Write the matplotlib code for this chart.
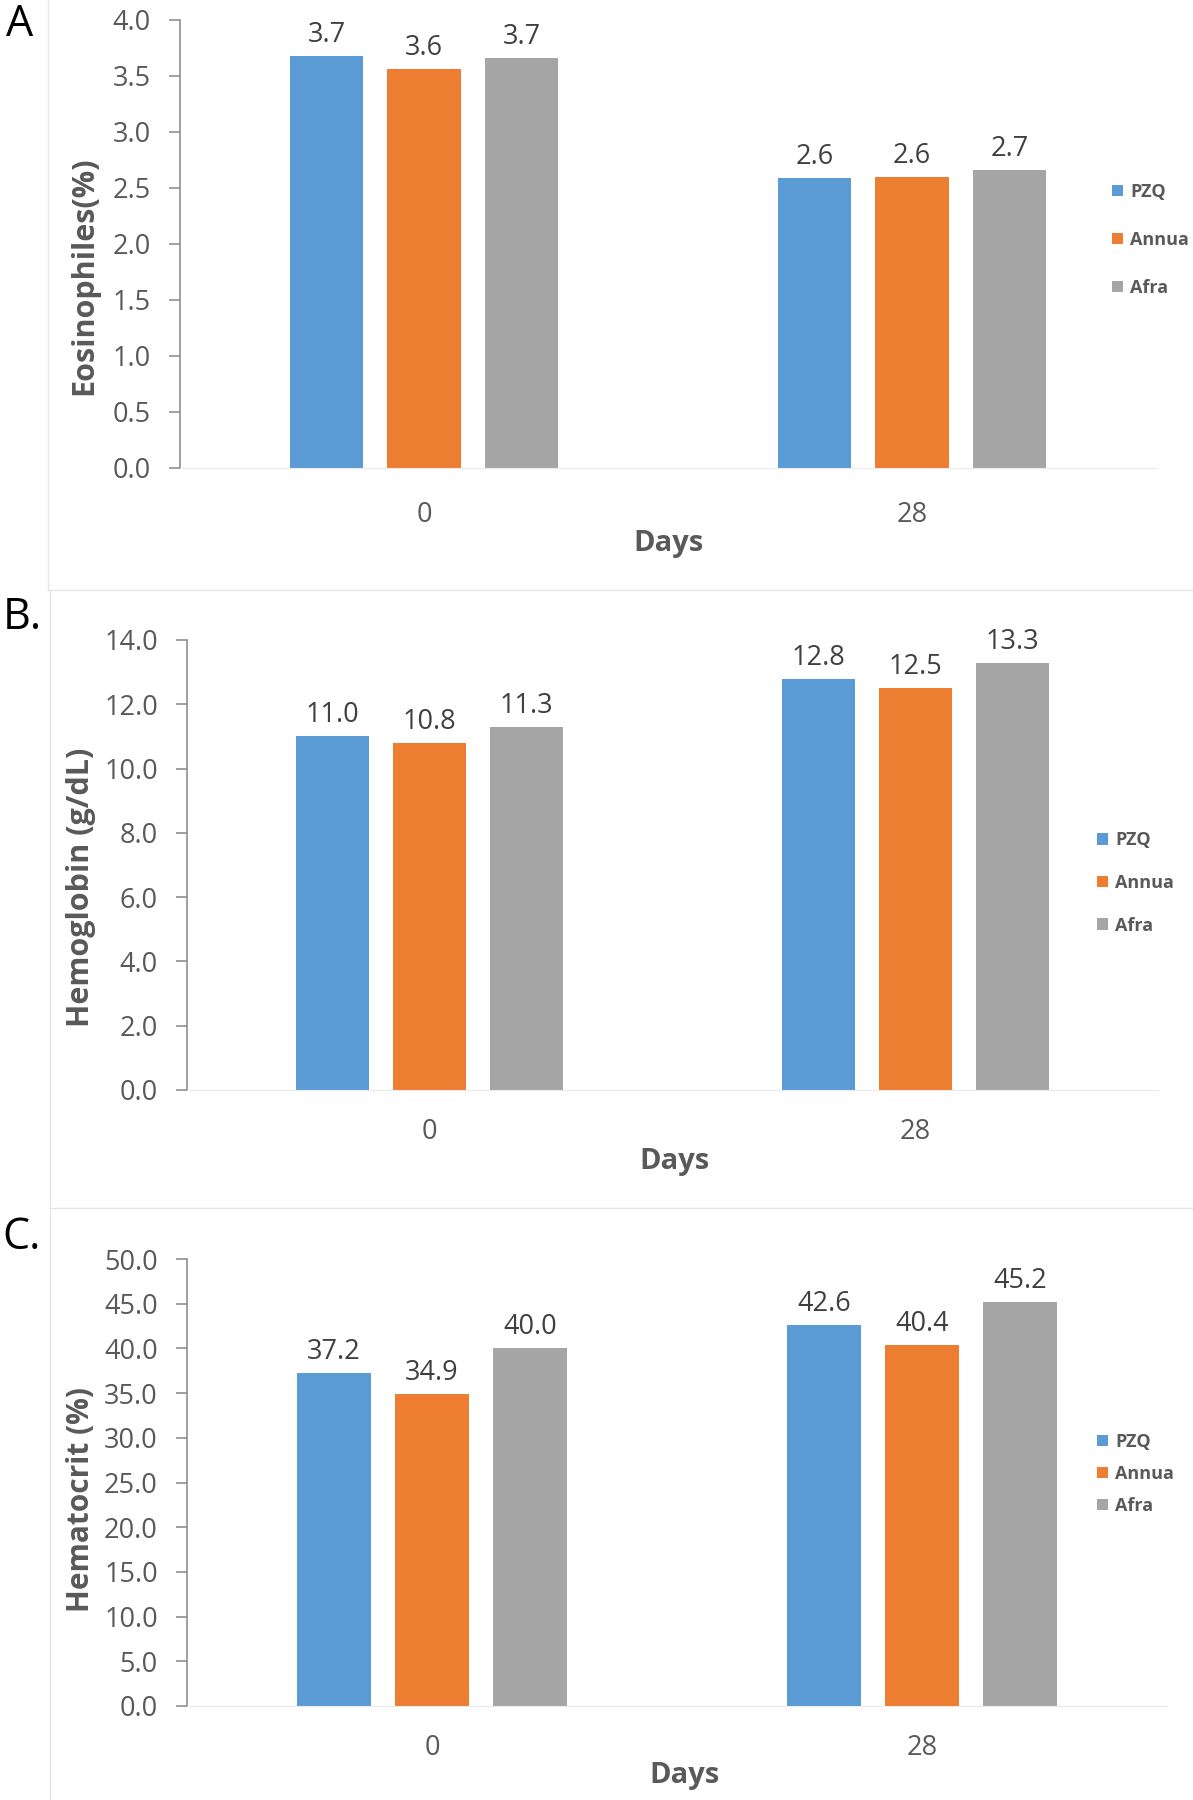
import numpy as np
import matplotlib.pyplot as plt
from matplotlib.lines import Line2D

plt.rcParams['font.family'] = ['Open Sans', 'DejaVu Sans']

# data
days = ['0', '28']
groups = ['PZQ', 'Annua', 'Afra']
colors = ['#5B9BD5', '#ED7D31', '#A5A5A5']

eos_pzq = [3.68, 2.59]
eos_annua = [3.56, 2.60]
eos_afra = [3.66, 2.66]

hb_pzq = [11.0, 12.8]
hb_annua = [10.8, 12.5]
hb_afra = [11.3, 13.3]

hct_pzq = [37.2, 42.6]
hct_annua = [34.9, 40.4]
hct_afra = [40.0, 45.2]

W, H = 1193, 1800
fig = plt.figure(figsize=(W / 100, H / 100), dpi=100)


def px_axes(left, right, top, bottom):
    return fig.add_axes([left / W, 1 - bottom / H, (right - left) / W, (bottom - top) / H])


def draw_panel(ax, series, ymax, step, pad):
    x = np.arange(len(days))
    barWidth = 0.15
    offsets = [-0.2, 0.0, 0.2]
    for vals, name, col, off in zip(series, groups, colors, offsets):
        bars = ax.bar(x + off, vals, width=barWidth, color=col, label=name)
        ax.bar_label(bars, fmt='%.1f', padding=5, fontsize=19.5, color='#404040')
    ax.set_xlim(-0.5, 1.5)
    ax.set_ylim(0, ymax)
    ax.set_yticks(np.arange(0, ymax + step / 2, step))
    ax.yaxis.set_major_formatter(plt.FormatStrFormatter('%.1f'))
    ax.set_xticks(x)
    ax.set_xticklabels(days)
    ax.tick_params(axis='x', length=0, pad=pad, labelsize=19.5, labelcolor='#595959')
    ax.tick_params(axis='y', length=8, width=1.1, color='#868686', pad=13,
                   labelsize=19.5, labelcolor='#595959')
    for s in ['top', 'right']:
        ax.spines[s].set_visible(False)
    ax.spines['bottom'].set_color('#EAEAEA')
    ax.spines['left'].set_color('#868686')
    ax.spines['left'].set_linewidth(1.1)


def legend_at(ax, xpx, ypx, spacing):
    ax.legend(loc='center left', bbox_to_anchor=(xpx / W, 1 - ypx / H),
              bbox_transform=fig.transFigure, frameon=False,
              prop={'weight': 'bold', 'size': 13}, labelcolor='#595959',
              handlelength=0.6, handleheight=0.6, handletextpad=0.4,
              labelspacing=spacing, borderpad=0)


# panel A
axA = px_axes(180, 1156, 20, 468)
draw_panel(axA, [eos_pzq, eos_annua, eos_afra], 4.0, 0.5, 24)
legend_at(axA, 1103, 240, 1.66)
fig.text(84 / W, 1 - 276 / H, 'Eosinophiles(%)', rotation=90, ha='center', va='center',
         fontsize=22, fontweight='bold', color='#595959')
fig.text(668 / W, 1 - 543 / H, 'Days', ha='center', va='center',
         fontsize=21, fontweight='bold', color='#595959')
fig.text(20 / W, 1 - 25 / H, 'A', ha='center', va='center', fontsize=31, color='black')

# panel B
axB = px_axes(187, 1158, 640, 1090)
draw_panel(axB, [hb_pzq, hb_annua, hb_afra], 14.0, 2.0, 20)
legend_at(axB, 1088, 883, 1.36)
fig.text(81 / W, 1 - 887 / H, 'Hemoglobin (g/dL)', rotation=90, ha='center', va='center',
         fontsize=22, fontweight='bold', color='#595959')
fig.text(675 / W, 1 - 1161 / H, 'Days', ha='center', va='center',
         fontsize=21, fontweight='bold', color='#595959')
fig.text(22 / W, 1 - 618 / H, 'B.', ha='center', va='center', fontsize=31, color='black')

# panel C
axC = px_axes(187, 1167, 1259, 1706)
draw_panel(axC, [hct_pzq, hct_annua, hct_afra], 50.0, 5.0, 20)
legend_at(axC, 1088, 1474, 0.78)
fig.text(81 / W, 1 - 1500 / H, 'Hematocrit (%)', rotation=90, ha='center', va='center',
         fontsize=21.5, fontweight='bold', color='#595959')
fig.text(685 / W, 1 - 1776 / H, 'Days', ha='center', va='center',
         fontsize=21, fontweight='bold', color='#595959')
fig.text(22 / W, 1 - 1238 / H, 'C.', ha='center', va='center', fontsize=31, color='black')

# faint panel frames
frame = dict(color='#E6E6E6', linewidth=1, transform=fig.transFigure)
for xs, ys in [([48, 48], [0, 590]), ([48, W], [590, 590]),
               ([50, 50], [591, 1208]), ([50, W], [1208, 1208]),
               ([50, 50], [1208, H])]:
    fig.add_artist(Line2D([x / W for x in xs], [1 - y / H for y in ys], **frame))

fig.savefig('out.png', dpi=100)
